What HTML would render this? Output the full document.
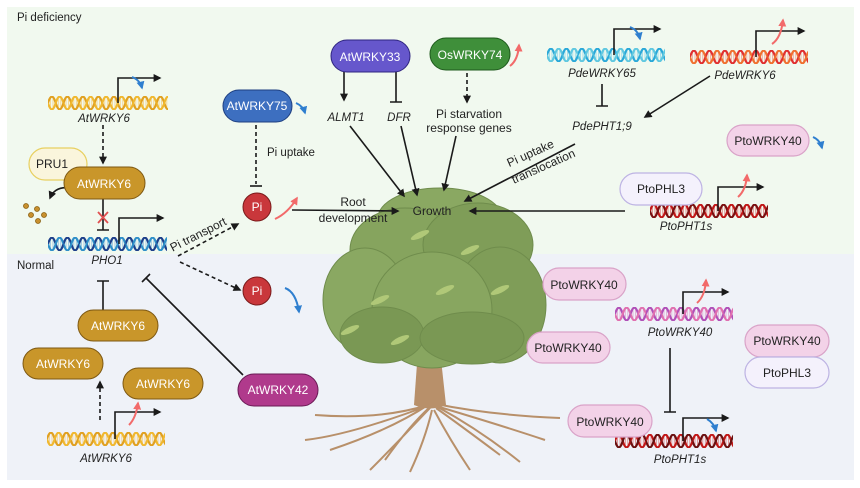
<!DOCTYPE html>
<html><head><meta charset="utf-8">
<style>
html,body{margin:0;padding:0;background:#fff;}
svg{display:block;font-family:"Liberation Sans",Arial,sans-serif;}
.t{font-size:11.5px;fill:#222;}
.i{font-size:11.5px;fill:#222;font-style:italic;text-anchor:middle;}
.w{font-size:12px;fill:#fff;text-anchor:middle;}
.k{font-size:12px;fill:#222;text-anchor:middle;}
</style></head><body>
<svg width="860" height="488" viewBox="0 0 860 488" xmlns="http://www.w3.org/2000/svg">
<defs>
<marker id="a" viewBox="0 0 10 10" refX="8" refY="5" markerWidth="5" markerHeight="5" orient="auto"><path d="M0,0L10,5L0,10z" fill="#1a1a1a"/></marker>
<marker id="ar" viewBox="0 0 10 10" refX="8" refY="5" markerWidth="4" markerHeight="4" orient="auto"><path d="M0,0L10,5L0,10z" fill="#f26a6a"/></marker>
<marker id="ab" viewBox="0 0 10 10" refX="8" refY="5" markerWidth="4" markerHeight="4" orient="auto"><path d="M0,0L10,5L0,10z" fill="#2f7fcf"/></marker>
<pattern id="p1" patternUnits="userSpaceOnUse" x="48" y="96" width="15.5" height="14"><g stroke="#f5d080" stroke-width="0.8"><path d="M2.5,2V12M5,2V12M10.3,2V12M12.8,2V12"/></g><path d="M0,7C2.6,-1.5 5.2,-1.5 7.75,7S12.9,15.5 15.5,7" stroke="#e0a020" stroke-width="2.2" fill="none"/><path d="M0,7C2.6,15.5 5.2,15.5 7.75,7S12.9,-1.5 15.5,7" stroke="#f0b830" stroke-width="2.2" fill="none"/></pattern>
<pattern id="p2" patternUnits="userSpaceOnUse" x="48" y="237" width="15.5" height="14"><g stroke="#8fc0e0" stroke-width="0.8"><path d="M2.5,2V12M5,2V12M10.3,2V12M12.8,2V12"/></g><path d="M0,7C2.6,-1.5 5.2,-1.5 7.75,7S12.9,15.5 15.5,7" stroke="#1d3f8a" stroke-width="2.2" fill="none"/><path d="M0,7C2.6,15.5 5.2,15.5 7.75,7S12.9,-1.5 15.5,7" stroke="#2f8fc8" stroke-width="2.2" fill="none"/></pattern>
<pattern id="p3" patternUnits="userSpaceOnUse" x="47" y="432" width="15.5" height="14"><g stroke="#f5d080" stroke-width="0.8"><path d="M2.5,2V12M5,2V12M10.3,2V12M12.8,2V12"/></g><path d="M0,7C2.6,-1.5 5.2,-1.5 7.75,7S12.9,15.5 15.5,7" stroke="#e0a020" stroke-width="2.2" fill="none"/><path d="M0,7C2.6,15.5 5.2,15.5 7.75,7S12.9,-1.5 15.5,7" stroke="#f0b830" stroke-width="2.2" fill="none"/></pattern>
<pattern id="p4" patternUnits="userSpaceOnUse" x="547" y="48" width="15.5" height="14"><g stroke="#90d8ea" stroke-width="0.8"><path d="M2.5,2V12M5,2V12M10.3,2V12M12.8,2V12"/></g><path d="M0,7C2.6,-1.5 5.2,-1.5 7.75,7S12.9,15.5 15.5,7" stroke="#2aa8d8" stroke-width="2.2" fill="none"/><path d="M0,7C2.6,15.5 5.2,15.5 7.75,7S12.9,-1.5 15.5,7" stroke="#60c8e0" stroke-width="2.2" fill="none"/></pattern>
<pattern id="p5" patternUnits="userSpaceOnUse" x="690" y="50" width="15.5" height="14"><g stroke="#f0a090" stroke-width="0.8"><path d="M2.5,2V12M5,2V12M10.3,2V12M12.8,2V12"/></g><path d="M0,7C2.6,-1.5 5.2,-1.5 7.75,7S12.9,15.5 15.5,7" stroke="#e03030" stroke-width="2.2" fill="none"/><path d="M0,7C2.6,15.5 5.2,15.5 7.75,7S12.9,-1.5 15.5,7" stroke="#f07030" stroke-width="2.2" fill="none"/></pattern>
<pattern id="p6" patternUnits="userSpaceOnUse" x="650" y="204" width="15.5" height="14"><g stroke="#e08080" stroke-width="0.8"><path d="M2.5,2V12M5,2V12M10.3,2V12M12.8,2V12"/></g><path d="M0,7C2.6,-1.5 5.2,-1.5 7.75,7S12.9,15.5 15.5,7" stroke="#c01818" stroke-width="2.2" fill="none"/><path d="M0,7C2.6,15.5 5.2,15.5 7.75,7S12.9,-1.5 15.5,7" stroke="#7a1010" stroke-width="2.2" fill="none"/></pattern>
<pattern id="p7" patternUnits="userSpaceOnUse" x="615" y="307" width="15.5" height="14"><g stroke="#e0a8d0" stroke-width="0.8"><path d="M2.5,2V12M5,2V12M10.3,2V12M12.8,2V12"/></g><path d="M0,7C2.6,-1.5 5.2,-1.5 7.75,7S12.9,15.5 15.5,7" stroke="#b050b8" stroke-width="2.2" fill="none"/><path d="M0,7C2.6,15.5 5.2,15.5 7.75,7S12.9,-1.5 15.5,7" stroke="#e070b0" stroke-width="2.2" fill="none"/></pattern>
<pattern id="p8" patternUnits="userSpaceOnUse" x="615" y="434" width="15.5" height="14"><g stroke="#e08080" stroke-width="0.8"><path d="M2.5,2V12M5,2V12M10.3,2V12M12.8,2V12"/></g><path d="M0,7C2.6,-1.5 5.2,-1.5 7.75,7S12.9,15.5 15.5,7" stroke="#c01818" stroke-width="2.2" fill="none"/><path d="M0,7C2.6,15.5 5.2,15.5 7.75,7S12.9,-1.5 15.5,7" stroke="#6a1010" stroke-width="2.2" fill="none"/></pattern>
</defs>
<rect x="7" y="7" width="847" height="247" fill="#f1f9ef"/>
<rect x="7" y="254" width="847" height="226" fill="#eff2f8"/>
<text x="17" y="21" class="t">Pi deficiency</text>
<text x="17" y="269" class="t">Normal</text>
<!-- DNA -->
<rect x="48" y="96" width="120" height="14" fill="url(#p1)"/>
<rect x="48" y="237" width="119" height="14" fill="url(#p2)"/>
<rect x="47" y="432" width="118" height="14" fill="url(#p3)"/>
<rect x="547" y="48" width="118" height="14" fill="url(#p4)"/>
<rect x="690" y="50" width="118" height="14" fill="url(#p5)"/>
<rect x="650" y="204" width="118" height="14" fill="url(#p6)"/>
<rect x="615" y="307" width="118" height="14" fill="url(#p7)"/>
<rect x="615" y="434" width="118" height="14" fill="url(#p8)"/>
<!-- tree -->
<g fill="none" stroke="#b8906a" stroke-width="2">
<path d="M428,405Q380,420 315,415M428,405Q390,430 330,450M430,408Q400,440 370,470M432,410Q425,440 410,472M434,410Q450,440 470,470M436,406Q480,430 520,462M436,404Q490,415 560,418M430,405Q350,435 305,440M436,406Q500,425 545,440M430,407Q410,425 385,460M436,408Q460,425 500,455"/>
</g>
<path d="M418,350L414,405Q430,412 446,405L440,350Z" fill="#b8906a"/>
<path d="M420,360L400,350M438,360L460,352" stroke="#b8906a" stroke-width="4" fill="none"/>
<g stroke="#6f8c4c" stroke-width="1">
<ellipse cx="440" cy="218" rx="62" ry="30" fill="#8aa862"/>
<ellipse cx="405" cy="250" rx="55" ry="42" fill="#86a45e"/>
<ellipse cx="478" cy="245" rx="55" ry="42" fill="#7f9d58"/>
<ellipse cx="365" cy="300" rx="42" ry="52" fill="#8aa862"/>
<ellipse cx="500" cy="305" rx="46" ry="58" fill="#7f9d58"/>
<ellipse cx="432" cy="310" rx="60" ry="58" fill="#88a660"/>
<ellipse cx="382" cy="335" rx="42" ry="28" fill="#7a9854"/>
<ellipse cx="472" cy="338" rx="52" ry="26" fill="#7a9854"/>
</g>
<g fill="#b0c878">
<ellipse cx="420" cy="235" rx="10" ry="3" transform="rotate(-25 420 235)"/>
<ellipse cx="380" cy="300" rx="10" ry="3" transform="rotate(-25 380 300)"/>
<ellipse cx="445" cy="290" rx="10" ry="3" transform="rotate(-25 445 290)"/>
<ellipse cx="500" cy="290" rx="10" ry="3" transform="rotate(-25 500 290)"/>
<ellipse cx="350" cy="330" rx="10" ry="3" transform="rotate(-25 350 330)"/>
<ellipse cx="470" cy="250" rx="10" ry="3" transform="rotate(-25 470 250)"/>
<ellipse cx="400" cy="340" rx="10" ry="3" transform="rotate(-25 400 340)"/>
</g>
<g stroke="#1a1a1a" stroke-width="1.6" fill="none">
<path d="M118,103V78H160" marker-end="url(#a)"/>
<path d="M119,244V218H163" marker-end="url(#a)"/>
<path d="M115,439V412H160" marker-end="url(#a)"/>
<path d="M614,55V29H660" marker-end="url(#a)"/>
<path d="M756,57V31H804" marker-end="url(#a)"/>
<path d="M718,211V187H763" marker-end="url(#a)"/>
<path d="M683,314V292H728" marker-end="url(#a)"/>
<path d="M683,441V418H728" marker-end="url(#a)"/>
<path d="M103,125V163" stroke-dasharray="4,3" marker-end="url(#a)"/>
<path d="M100,420V382" stroke-dasharray="4,3" marker-end="url(#a)"/>
<path d="M178,256L238,224" stroke-dasharray="4,3" marker-end="url(#a)"/>
<path d="M180,262L240,290" stroke-dasharray="4,3" marker-end="url(#a)"/>
<path d="M467,73V102" stroke-dasharray="4,3" marker-end="url(#a)"/>
<path d="M256,125V184" stroke-dasharray="4,3"/><path d="M250,186H262"/>
<path d="M103,199V230M97,230H109"/>
<path d="M103,310V281M97,281H109"/>
<path d="M243,375L146,278M142,282L150,274"/>
<path d="M396,72V102M390,102H402"/>
<path d="M602,84V106M596,106H608"/>
<path d="M670,348V412M664,412H676"/>
<path d="M344,72V100" marker-end="url(#a)"/>
<path d="M710,76L645,117" marker-end="url(#a)"/>
<path d="M350,126L404,196" marker-end="url(#a)"/>
<path d="M401,126L417,195" marker-end="url(#a)"/>
<path d="M456,136L444,190" marker-end="url(#a)"/>
<path d="M575,144L465,201" marker-end="url(#a)"/>
<path d="M625,211L470,211" marker-end="url(#a)"/>
<path d="M292,210L398,211" marker-end="url(#a)"/>
<path d="M70,188Q55,186 50,198" marker-end="url(#a)"/>
</g>
<path d="M98,212L108,223M108,212L98,223" stroke="#e05050" stroke-width="1.8"/>
<g fill="#c8902e" stroke="#8a6010" stroke-width="0.8">
<circle cx="26" cy="206" r="2.5"/><circle cx="37" cy="209" r="2.5"/><circle cx="31" cy="215" r="2.5"/><circle cx="44" cy="215" r="2.5"/><circle cx="38" cy="221" r="2.5"/></g>
<g fill="none" stroke-width="2">
<path d="M132,77Q140,80 142,88" stroke="#2f7fcf" marker-end="url(#ab)"/>
<path d="M296,103Q303,106 305,113" stroke="#2f7fcf" marker-end="url(#ab)"/>
<path d="M630,27Q638,30 640,39" stroke="#2f7fcf" marker-end="url(#ab)"/>
<path d="M813,137Q820,140 822,148" stroke="#2f7fcf" marker-end="url(#ab)"/>
<path d="M285,288Q296,292 299,312" stroke="#2f7fcf" marker-end="url(#ab)"/>
<path d="M707,419Q714,423 716,431" stroke="#2f7fcf" marker-end="url(#ab)"/>
<path d="M275,219Q288,213 297,198" stroke="#f26a6a" marker-end="url(#ar)"/>
<path d="M510,66Q518,60 519,45" stroke="#f26a6a" marker-end="url(#ar)"/>
<path d="M772,44Q781,38 783,20" stroke="#f26a6a" marker-end="url(#ar)"/>
<path d="M738,197Q746,190 747,175" stroke="#f26a6a" marker-end="url(#ar)"/>
<path d="M697,303Q705,296 706,280" stroke="#f26a6a" marker-end="url(#ar)"/>
<path d="M129,425Q136,418 138,403" stroke="#f26a6a" marker-end="url(#ar)"/>
</g>
<rect x="29" y="148" width="58" height="32" rx="16" fill="#faf5dc" stroke="#e8d060" stroke-width="1.2"/>
<text x="52" y="168" class="k">PRU1</text>
<g fill="#c9962a" stroke="#7d5812" stroke-width="1">
<rect x="64" y="167" width="81" height="32" rx="16"/>
<rect x="78" y="310" width="80" height="31" rx="15.5"/>
<rect x="23" y="348" width="80" height="31" rx="15.5"/>
<rect x="123" y="368" width="80" height="31" rx="15.5"/>
</g>
<text x="104" y="188" class="w">AtWRKY6</text>
<text x="118" y="330" class="w">AtWRKY6</text>
<text x="63" y="368" class="w">AtWRKY6</text>
<text x="163" y="388" class="w">AtWRKY6</text>
<rect x="223" y="90" width="69" height="32" rx="16" fill="#3d6fc0" stroke="#1e3f80"/>
<text x="257" y="110" class="w">AtWRKY75</text>
<rect x="331" y="40" width="79" height="32" rx="16" fill="#6657cc" stroke="#2f2580"/>
<text x="370" y="61" class="w">AtWRKY33</text>
<rect x="430" y="38" width="80" height="32" rx="16" fill="#3f8f3a" stroke="#1f5a1d"/>
<text x="470" y="59" class="w">OsWRKY74</text>
<rect x="238" y="374" width="80" height="32" rx="16" fill="#b03a8c" stroke="#6a1a55"/>
<text x="278" y="394" class="w">AtWRKY42</text>
<circle cx="257" cy="207" r="14" fill="#c9373b" stroke="#7a1a1a"/>
<text x="257" y="211" class="w">Pi</text>
<circle cx="257" cy="291" r="14" fill="#c9373b" stroke="#7a1a1a"/>
<text x="257" y="295" class="w">Pi</text>
<g fill="#f3d2e8" stroke="#d9a3c8" stroke-width="1.2">
<rect x="727" y="125" width="82" height="31" rx="15.5"/>
<rect x="543" y="268" width="83" height="32" rx="16"/>
<rect x="527" y="332" width="83" height="31" rx="15.5"/>
<rect x="568" y="405" width="84" height="32" rx="16"/>
<rect x="745" y="325" width="84" height="32" rx="16"/>
</g>
<g fill="#f4f1fc" stroke="#bdb3e3" stroke-width="1.2">
<rect x="620" y="173" width="82" height="32" rx="16"/>
<rect x="745" y="357" width="84" height="31" rx="15.5"/>
</g>
<text x="768" y="145" class="k">PtoWRKY40</text>
<text x="584" y="289" class="k">PtoWRKY40</text>
<text x="568" y="352" class="k">PtoWRKY40</text>
<text x="610" y="426" class="k">PtoWRKY40</text>
<text x="787" y="345" class="k">PtoWRKY40</text>
<text x="661" y="193" class="k">PtoPHL3</text>
<text x="787" y="377" class="k">PtoPHL3</text>
<text x="104" y="122" class="i">AtWRKY6</text>
<text x="107" y="264" class="i">PHO1</text>
<text x="106" y="462" class="i">AtWRKY6</text>
<text x="346" y="121" class="i">ALMT1</text>
<text x="399" y="121" class="i">DFR</text>
<text x="602" y="77" class="i">PdeWRKY65</text>
<text x="745" y="79" class="i">PdeWRKY6</text>
<text x="602" y="130" class="i">PdePHT1;9</text>
<text x="686" y="230" class="i">PtoPHT1s</text>
<text x="680" y="336" class="i">PtoWRKY40</text>
<text x="680" y="463" class="i">PtoPHT1s</text>
<text x="469" y="118" class="k">Pi starvation</text>
<text x="469" y="132" class="k">response genes</text>
<text x="267" y="156" class="t">Pi uptake</text>
<text x="353" y="206" class="k">Root</text>
<text x="353" y="222" class="k">development</text>
<text transform="translate(200,238) rotate(-27)" class="k">Pi transport</text>
<text transform="translate(532,157) rotate(-24)" class="k">Pi uptake</text>
<text transform="translate(545,170) rotate(-24)" class="k">translocation</text>
<text x="432" y="215" class="k">Growth</text>
</svg>
</body></html>
